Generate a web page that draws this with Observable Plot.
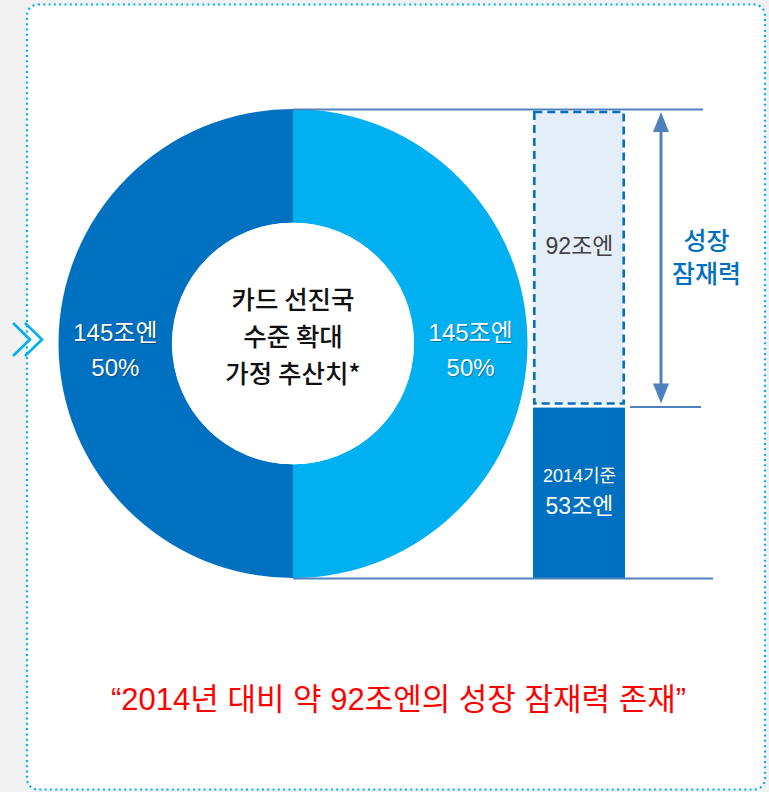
<!DOCTYPE html>
<html><head><meta charset="utf-8">
<script src="https://cdn.jsdelivr.net/npm/d3@7"></script>
<script src="https://cdn.jsdelivr.net/npm/@observablehq/plot@0.6"></script>
<style>html,body{margin:0;padding:0;background:#f1f1f1;} svg{display:block;}</style>
</head><body><div id="chart"></div>
<script>
// ---- data ----
const donutSegments = ["확대분", "현재"];          // right half, left half
const donutValues = [145, 145];                  // 조엔
const donutShares = ["50%", "50%"];
const unit = "조엔";
const centerTitle = "카드 선진국\n수준 확대\n가정 추산치*";
const barSegments = ["2014기준", "성장 잠재력"];
const barValues = [53, 92];                      // 조엔
const growthLabel = "성장\n잠재력";
const caption = "“2014년 대비 약 92조엔의 성장 잠재력 존재”";

const total = d3.sum(barValues);
const ends = d3.cumsum(barValues);
const barData = barSegments.map((s, i) => ({segment: s, value: barValues[i], y1: ends[i] - barValues[i], y2: ends[i]}));

const DARK = "#0070c0", LIGHT = "#00b0f0", LINE = "#4f81bd";
const FONT = "'Liberation Sans', 'Noto Sans CJK KR', sans-serif";
const KFONT = "'Noto Sans CJK KR', sans-serif";

// decoration: card + chevrons
function cardMark(index, scales, values, dim) {
  const g = d3.create("svg:g");
  g.append("rect").attr("x", 27).attr("y", 4.5).attr("width", 738).attr("height", 785)
    .attr("rx", 11).attr("fill", "#fff").attr("stroke", LIGHT).attr("stroke-width", 2.2)
    .attr("stroke-dasharray", "2 3.3");
  [0, 12].forEach(o => g.append("polyline")
    .attr("points", `${13+o},323 ${30+o},339.5 ${13+o},356`)
    .attr("fill", "none").attr("stroke", LIGHT).attr("stroke-width", 2.6));
  return g.node();
}

function donutMark(index, scales) {
  const y = scales.y, x = scales.x;
  const cx = x(293), cy = (y(0) + y(total)) / 2;
  const outer = (y(0) - y(total)) / 2, inner = outer * 0.515;
  const arcs = d3.pie().sort(null)(donutValues);
  const arc = d3.arc().innerRadius(inner).outerRadius(outer);
  const g = d3.create("svg:g").attr("transform", `translate(${cx},${cy})`);
  const cols = [LIGHT, DARK];
  g.selectAll("path").data(arcs).join("path").attr("d", arc).attr("fill", (d, i) => cols[i]);
  g.append("circle").attr("r", inner).attr("fill", "#fff");
  arcs.forEach((a, i) => {
    const [px, py] = arc.centroid(a);
    const lines = [donutValues[i] + unit, donutShares[i]];
    [["rgba(0,0,0,0.35)", 1], ["#fff", 0]].forEach(([c, off]) => {
      const t = g.append("text").attr("text-anchor", "middle").attr("font-family", FONT)
        .attr("font-size", 24).attr("fill", c);
      lines.forEach((l, k) => t.append("tspan").attr("x", px + off).attr("y", py + off - 3 + k * 35).text(l));
    });
  });
  const ct = g.append("text").attr("text-anchor", "middle").attr("font-family", KFONT)
    .attr("font-size", 25.5).attr("font-weight", 500).attr("fill", "#111");
  centerTitle.split("\n").forEach((l, k) => ct.append("tspan").attr("x", 0).attr("y", -35 + k * 37).text(l));
  return g.node();
}

function arrowMark(index, scales) {
  const y = scales.y, x = scales.x;
  const ax = x(661), top = y(total) + 3, bot = y(barValues[0]) - 3;
  const g = d3.create("svg:g").attr("fill", LINE).attr("stroke", "none");
  g.append("line").attr("x1", ax).attr("x2", ax).attr("y1", top + 15).attr("y2", bot - 15)
    .attr("stroke", LINE).attr("stroke-width", 3);
  g.append("polygon").attr("points", `${ax},${top} ${ax-8},${top+20} ${ax+8},${top+20}`);
  g.append("polygon").attr("points", `${ax},${bot} ${ax-8},${bot-20} ${ax+8},${bot-20}`);
  return g.node();
}

const chart = Plot.plot({
  width: 769, height: 792, margin: 0,
  x: {type: "identity", axis: null},
  y: {domain: [0, total], range: [578, 109], axis: null},
  style: {fontFamily: FONT, background: "transparent", overflow: "visible"},
  marks: [
    cardMark,
    donutMark,
    Plot.rect(barData.slice(0, 1), {x1: 533, x2: 625, y1: "y1", y2: "y2", fill: DARK, insetTop: 1}),
    Plot.rect(barData.slice(1), {x1: 533, x2: 625, y1: "y1", y2: "y2", fill: "#e4eef8", stroke: DARK,
      strokeWidth: 2.6, strokeDasharray: "8 5", insetTop: 3, insetBottom: 3, insetLeft: 1.3, insetRight: 1.3}),
    Plot.ruleY([total], {x1: 293, x2: 703, stroke: LINE, strokeWidth: 2}),
    Plot.ruleY([0], {x1: 293, x2: 713, stroke: LINE, strokeWidth: 2}),
    Plot.ruleY([barValues[0]], {x1: 630, x2: 701, stroke: LINE, strokeWidth: 2}),
    arrowMark,
    Plot.text(barData.slice(1), {x: 579, y: d => (d.y1 + d.y2) / 2, text: d => d.value + unit,
      fill: "#404040", fontSize: 23, dy: -12}),
    Plot.text(barData.slice(0, 1), {x: 579, y: d => (d.y1 + d.y2) / 2, text: d => d.segment,
      fill: "#fff", fontSize: 18, dy: -17}),
    Plot.text(barData.slice(0, 1), {x: 579, y: d => (d.y1 + d.y2) / 2, text: d => d.value + unit,
      fill: "#fff", fontSize: 23, dy: 14}),
    Plot.text([growthLabel], {x: 706, y: [(barValues[0] + total) / 2], text: d => d, fontFamily: KFONT,
      fill: DARK, fontSize: 25, fontWeight: 500, lineHeight: 1.3, dy: -2}),
    Plot.text([caption], {frameAnchor: "bottom", x: 398, dy: -92, lineAnchor: "middle", text: d => d,
      fill: "#ff0000", fontSize: 31, fontWeight: 400})
  ]
});
document.getElementById("chart").appendChild(chart);
</script>
</body></html>
